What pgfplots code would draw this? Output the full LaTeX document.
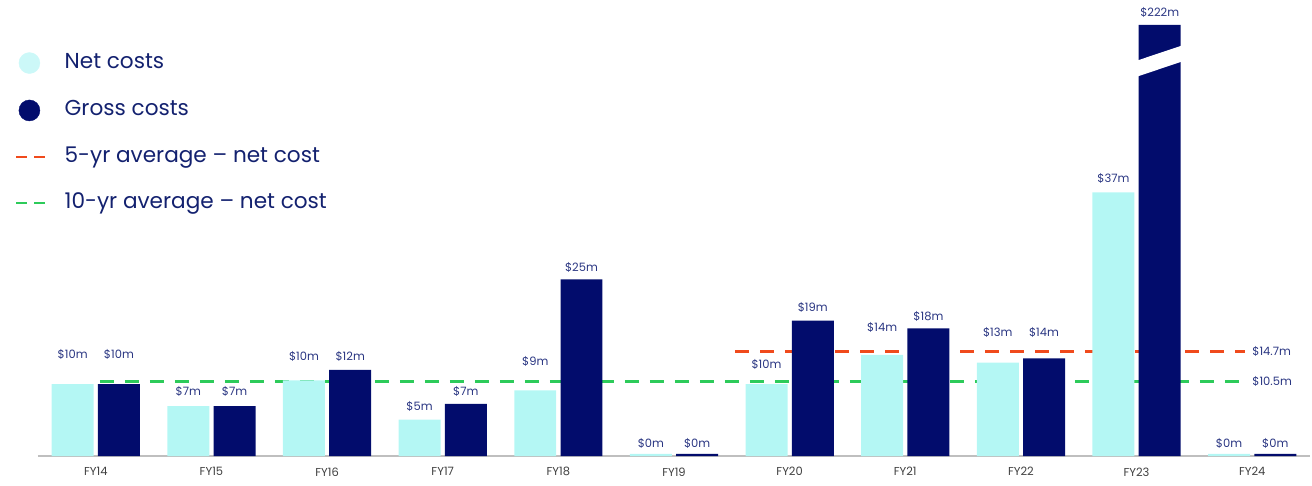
\documentclass[border=0pt]{standalone}
\usepackage{fontspec}
\setmainfont{Poppins}
\usepackage{pgfplots}
\usepackage{pgfplotstable}
\pgfplotsset{compat=1.18}
\definecolor{netc}{HTML}{B4F7F4}
\definecolor{netlg}{HTML}{CCF8F8}
\definecolor{grossc}{HTML}{020C6C}
\definecolor{txt}{HTML}{13216F}
\definecolor{lab}{HTML}{2A3682}
\definecolor{avgfive}{HTML}{F04A1C}
\definecolor{avgten}{HTML}{2DCB5A}

\pgfplotstableread{
x net gross netly grossly netlab grosslab
0 10.1 10.1 14.2 14.2 10m 10m
1 7.0 7.0 9.0 9.0 7m 7m
2 10.6 12.1 14.0 14.0 10m 12m
3 5.1 7.3 7.0 9.0 5m 7m
4 9.2 24.8 13.2 26.5 9m 25m
5 0.3 0.3 1.8 1.8 0m 0m
6 10.1 19.0 12.8 20.9 10m 19m
7 14.2 17.9 18.1 19.6 14m 18m
8 13.1 13.7 17.3 17.3 13m 14m
9 37.0 222 39.0 62.3 37m 222m
10 0.3 0.3 1.8 1.8 0m 0m
}\data

\begin{document}
\begin{tikzpicture}
\useasboundingbox (-38pt,-29pt) rectangle (1274pt,456pt);
\begin{axis}[
  scale only axis, width=1272pt, height=431pt,
  xmin=-0.5, xmax=10.5, ymin=0, ymax=60.5,
  clip=false,
  axis y line=none, axis x line*=bottom,
  x axis line style={-, draw=black!25, line width=1.5pt},
  xtick={0,...,10},
  xticklabels={FY14,FY15,FY16,FY17,FY18,FY19,FY20,FY21,FY22,FY23,FY24},
  xtick style={draw=none},
  xticklabel style={font=\fontsize{11.5}{13}\selectfont, text=black!75, yshift=-8pt},
  legend style={at={(axis description cs:-0.0181,0.937)}, anchor=north west,
    draw=none, fill=none, inner sep=0pt, row sep=26pt, column sep=17pt,
    font=\fontsize{21.6}{25}\selectfont,
    nodes={inner sep=0pt, text height=15pt, text depth=5pt, text=txt}},
  legend cell align=left,
]
\addlegendimage{legend image code/.code={\path (0,0) (30pt,0); \fill[netlg] (13pt,0) circle (10.5pt);}}
\addlegendentry{Net costs}
\addlegendimage{legend image code/.code={\path (0,0) (30pt,0); \fill[grossc] (13pt,0) circle (10.5pt);}}
\addlegendentry{Gross costs}
\addlegendimage{legend image code/.code={\draw[avgfive, line width=2.5pt, dash pattern=on 11pt off 7pt] (0,0) -- (30pt,0);}}
\addlegendentry{5-yr average – net cost}
\addlegendimage{legend image code/.code={\draw[avgten, line width=2.5pt, dash pattern=on 11pt off 7pt] (0,0) -- (30pt,0);}}
\addlegendentry{10-yr average – net cost}

% average lines (behind bars)
\addplot[forget plot, avgten, line width=2.7pt, dash pattern=on 14pt off 11pt] coordinates {(0.035,10.5) (9.94,10.5)};
\addplot[forget plot, avgfive, line width=2.7pt, dash pattern=on 14pt off 11pt] coordinates {(5.53,14.7) (9.94,14.7)};

% bars
\addplot[forget plot, ybar, bar width=0.363, bar shift=-0.2, fill=netc, draw=none] table[x=x, y=net] {\data};
\addplot[forget plot, ybar, bar width=0.363, bar shift=0.2, fill=grossc, draw=none,
  restrict y to domain*=0:60.5] table[x=x, y=gross] {\data};

% axis break on FY23 gross bar
\fill[white] (axis cs:9.0,53.23) -- (axis cs:9.0,55.48) -- (axis cs:9.40,57.66) -- (axis cs:9.40,55.41) -- cycle;

% value labels
\addplot[forget plot, draw=none, mark=none, point meta=explicit symbolic,
  nodes near coords={\$\pgfplotspointmeta},
  every node near coord/.append style={anchor=center, inner sep=0pt, text=lab, font=\fontsize{11.5}{13}\selectfont}]
  table[x expr=\thisrow{x}-0.2, y=netly, meta=netlab] {\data};
\addplot[forget plot, draw=none, mark=none, point meta=explicit symbolic,
  nodes near coords={\$\pgfplotspointmeta},
  every node near coord/.append style={anchor=center, inner sep=0pt, text=lab, font=\fontsize{11.5}{13}\selectfont}]
  table[x expr=\thisrow{x}+0.2, y=grossly, meta=grosslab] {\data};

\node[anchor=west, inner sep=0pt, text=lab, font=\fontsize{11.5}{13}\selectfont] at (axis cs:10.0,14.7) {\$14.7m};
\node[anchor=west, inner sep=0pt, text=lab, font=\fontsize{11.5}{13}\selectfont] at (axis cs:10.0,10.5) {\$10.5m};
\end{axis}
\end{tikzpicture}
\end{document}
